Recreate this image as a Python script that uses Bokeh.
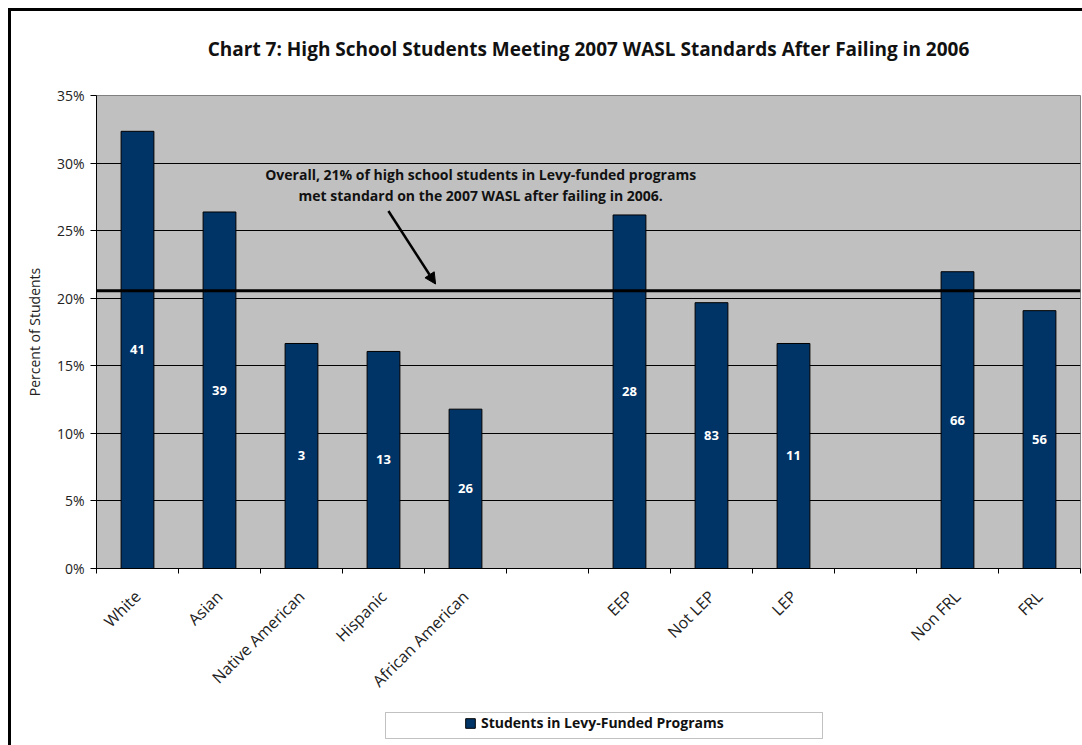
import math

from bokeh.core.properties import value
from bokeh.embed import file_html
from bokeh.layouts import column
from bokeh.models import (Arrow, BoxAnnotation, ColumnDataSource, FixedTicker,
                          InlineStyleSheet, Label, LabelSet, Legend, LegendItem, NormalHead,
                          NumeralTickFormatter, Range1d, Span)
from bokeh.plotting import figure
from bokeh.resources import INLINE

# Student groups (blank slots separate the three groupings)
groups = ["White", "Asian", "Native American", "Hispanic", "African American", "",
          "EEP", "Not LEP", "LEP", "", "Non FRL", "FRL"]
# Share of students meeting the 2007 standard after failing in 2006
pct_met = [0.3235, 0.2638, 0.1665, 0.1606, 0.1179, None,
           0.2616, 0.1967, 0.1665, None, 0.2196, 0.1908]
# Number of students in each group
n_students = [41, 39, 3, 13, 26, None, 28, 83, 11, None, 66, 56]
overall_pct = 0.2055
y_ticks = [0.0, 0.05, 0.10, 0.15, 0.20, 0.25, 0.30, 0.35]
series_name = "Students in Levy-Funded Programs"

FONT = "Open Sans"
NAVY = "#003366"
INK = "#111111"

# each group occupies two x units; bars sit at odd positions
xs, ys, mids, counts = [], [], [], []
for i, (g, v, n) in enumerate(zip(groups, pct_met, n_students)):
    if v is None:
        continue
    xs.append(2 * i + 1)
    ys.append(v)
    mids.append(v / 2)
    counts.append(str(n))
src = ColumnDataSource(dict(x=xs, top=ys, mid=mids, n=counts))

p = figure(width=1082, height=711, output_backend="svg", toolbar_location=None,
           x_range=Range1d(0, 2 * len(groups)), y_range=Range1d(0, 0.35),
           min_border_left=96, min_border_right=2, min_border_top=93,
           min_border_bottom=143,
           title="Chart 7: High School Students Meeting 2007 WASL Standards "
                 "After Failing in 2006")
p.background_fill_color = "#C0C0C0"
p.border_fill_color = "white"
p.outline_line_color = "#808080"
p.outline_line_width = 1

p.title.align = "center"
p.title.text_font = FONT
p.title.text_font_size = "19px"
p.title.text_font_style = "bold"
p.title.text_color = INK
p.title.standoff = 67

# heavy black chart border along the top and left edges
p.stylesheets = [InlineStyleSheet(css=""":host::after {
  content: ""; position: absolute; left: 8px; top: 8px; right: 0; bottom: 0;
  border-left: 3px solid black; border-top: 3px solid black; pointer-events: none;
}""")]

bars = p.vbar(x="x", top="top", width=0.8, bottom=0, source=src,
              fill_color=NAVY, line_color="black", line_width=1)

p.add_layout(LabelSet(x="x", y="mid", text="n", source=src, text_align="center",
                      text_baseline="middle", text_color="white",
                      text_font=value(FONT), text_font_style="bold",
                      text_font_size="13px"))

# x axis: labels at bar centres, tick marks at group boundaries
xa = p.xaxis[0]
xa.ticker = FixedTicker(ticks=xs, minor_ticks=list(range(0, 2 * len(groups) + 1, 2)))
xa.major_label_overrides = {2 * i + 1: g for i, g in enumerate(groups) if g}
xa.major_tick_out = 0
xa.major_tick_in = 0
xa.minor_tick_out = 5
xa.minor_tick_in = 0
xa.minor_tick_line_color = "black"
xa.axis_line_color = "black"
xa.major_label_orientation = math.pi / 4
xa.major_label_text_font = FONT
xa.major_label_text_font_size = "16px"
xa.major_label_text_color = "#222222"
xa.major_label_standoff = 20

ya = p.yaxis[0]
ya.ticker = FixedTicker(ticks=y_ticks, minor_ticks=[])
ya.formatter = NumeralTickFormatter(format="0%")
ya.major_tick_out = 6
ya.major_tick_in = 0
ya.major_tick_line_color = "black"
ya.axis_line_color = "black"
ya.major_label_text_font = FONT
ya.major_label_text_font_size = "14px"
ya.major_label_text_color = "#222222"
ya.major_label_standoff = 6
ya.axis_label = "Percent of Students"
ya.axis_label_text_font = FONT
ya.axis_label_text_font_size = "14px"
ya.axis_label_text_font_style = "normal"
ya.axis_label_text_color = "#222222"
ya.axis_label_standoff = 10

p.xgrid.grid_line_color = None
p.ygrid.ticker = FixedTicker(ticks=y_ticks)
p.ygrid.grid_line_color = "black"
p.ygrid.grid_line_width = 1

p.add_layout(Span(location=overall_pct, dimension="width", line_color="black",
                  line_width=3))

p.add_layout(Arrow(end=NormalHead(size=11, fill_color="black", line_color="black"),
                   x_start=7.12, y_start=0.2645, x_end=8.27, y_end=0.2105,
                   line_color="black", line_width=2.5))

for txt, yy in [("Overall, 21% of high school students in Levy-funded programs", 0.2918),
                ("met standard on the 2007 WASL after failing in 2006.", 0.2763)]:
    p.add_layout(Label(x=9.37, y=yy, text=txt, text_align="center",
                       text_baseline="middle", text_font=FONT,
                       text_font_style="bold", text_font_size="14px",
                       text_color=INK))

# legend strip under the chart; same side borders so the frames line up,
# and its ranges are in pixels measured from the strip's frame
leg = figure(width=1082, height=34, output_backend="svg", toolbar_location=None,
             x_axis_type=None, y_axis_type=None,
             x_range=Range1d(0, 984), y_range=Range1d(1, 35),
             min_border_left=96, min_border_right=2, min_border_top=0,
             min_border_bottom=0)
leg.background_fill_color = "white"
leg.border_fill_color = "white"
leg.outline_line_color = None
leg.grid.grid_line_color = None
leg.stylesheets = [InlineStyleSheet(css=""":host::after {
  content: ""; position: absolute; left: 8px; top: 0; bottom: 0; width: 0;
  border-left: 3px solid black; pointer-events: none;
}""")]
# key renderer: same bars and style, lying below this strip's visible range
key = leg.vbar(x="x", top="top", width=0.8, bottom=0, source=src,
               fill_color=NAVY, line_color="black", line_width=1)
leg.add_layout(BoxAnnotation(left=289, right=726, bottom=8, top=34,
                             fill_color="white", fill_alpha=1,
                             line_color="#333333", line_width=1))
leg.add_layout(Legend(items=[LegendItem(label=series_name, renderers=[key])],
                      location=(368, 13), padding=0, margin=0, spacing=0,
                      glyph_width=12, glyph_height=12, label_height=14,
                      label_standoff=5, label_text_font=FONT,
                      label_text_font_style="bold", label_text_font_size="14px",
                      label_text_color=INK, border_line_alpha=0,
                      background_fill_alpha=0))

open("out.html", "w").write(file_html(column(p, leg, spacing=0), INLINE))
